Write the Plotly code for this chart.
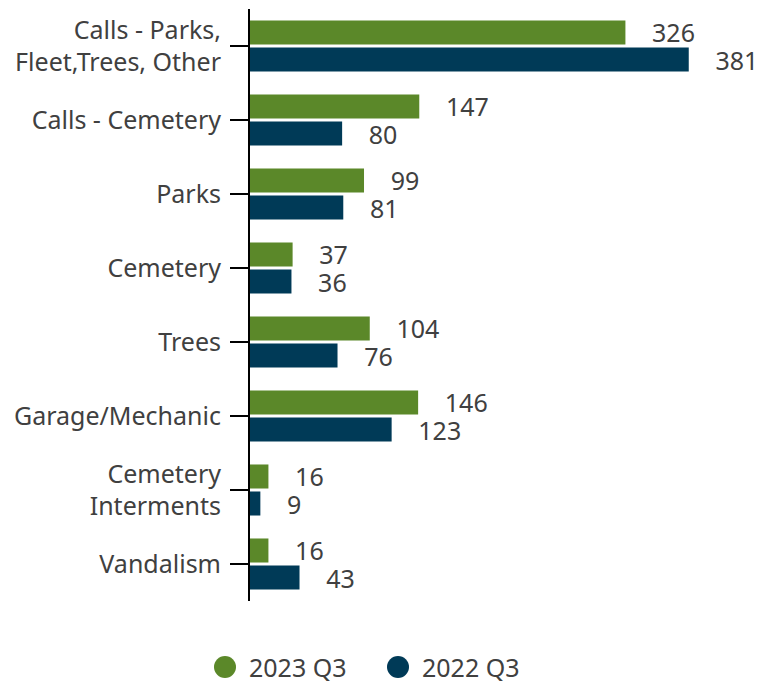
import plotly.graph_objects as go

categories = ["Calls - Parks,<br>Fleet,Trees, Other", "Calls - Cemetery", "Parks", "Cemetery",
              "Trees", "Garage/Mechanic", "Cemetery<br>Interments", "Vandalism"]
q3_2023 = [326, 147, 99, 37, 104, 146, 16, 16]
q3_2022 = [381, 80, 81, 36, 76, 123, 9, 43]
series_names = ["2023 Q3", "2022 Q3"]
colors = ["#5B8829", "#003A57"]

# page body has an 8px default margin; figure sized/positioned to compensate
FW, FH = 761, 677
L, T, PW, PH = 242, 1, 509, 592
R = FW - L - PW
B = FH - T - PH

pad = "\u00a0" * 3 + "\u2009"
fig = go.Figure()
for name, vals, col in zip(series_names, [q3_2023, q3_2022], colors):
    fig.add_trace(go.Bar(
        y=categories, x=vals, orientation="h", name=name,
        marker=dict(color=col, line=dict(width=0)),
        text=[pad + str(v) for v in vals], textposition="outside",
        constraintext="none",
        textfont=dict(size=25, color="#404040", family="Noto Sans"),
        cliponaxis=False, showlegend=False,
    ))

# legend: round swatches + labels
swatch_x = [217, 390]
label_x = [239, 412]
ly = (T + PH - 659) / PH
for name, col, sx, tx in zip(series_names, colors, swatch_x, label_x):
    fig.add_shape(type="circle", xref="paper", yref="paper",
                  xsizemode="pixel", ysizemode="pixel",
                  xanchor=(sx - L) / PW, yanchor=ly,
                  x0=-11, x1=11, y0=-11, y1=11,
                  fillcolor=col, line=dict(width=0))
    fig.add_annotation(xref="paper", yref="paper", x=(tx - L) / PW, y=ly,
                       xanchor="left", yanchor="middle", showarrow=False,
                       text=name, font=dict(size=25, color="#404040", family="Noto Sans"))

fig.update_layout(
    width=FW, height=FH,
    margin=dict(l=L, r=R, t=T, b=B),
    plot_bgcolor="white", paper_bgcolor="white",
    barmode="group", bargap=0.27, bargroupgap=0.11,
    font=dict(family="Noto Sans", color="#404040", size=25),
    showlegend=False,
    xaxis=dict(range=[0, 442], visible=False),
    yaxis=dict(autorange="reversed", showline=True, linecolor="black", linewidth=2,
               ticks="outside", ticklen=18, tickcolor="black", tickwidth=2,
               automargin=False, ticklabelstandoff=4,
               tickfont=dict(size=25, color="#404040"), showgrid=False),
)
fig.write_html("out.html")
